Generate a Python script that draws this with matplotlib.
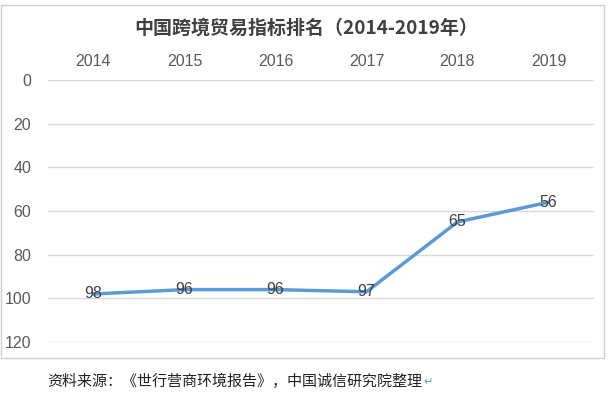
import matplotlib.pyplot as plt
from matplotlib.patches import Rectangle

plt.rcParams['font.family'] = ['Liberation Sans', 'Noto Sans CJK SC', 'DejaVu Sans']

years = ['2014', '2015', '2016', '2017', '2018', '2019']
ranks = [98, 96, 96, 97, 65, 56]
yticks = [0, 20, 40, 60, 80, 100, 120]

fig = plt.figure(figsize=(6.13, 3.96), dpi=100)
ax = fig.add_axes([48/613, 1-342/396, 546/613, 262/396])

x = list(range(len(years)))
ax.plot(x, ranks, color='#5b9bd5', lw=2.5, solid_capstyle='round', zorder=3)
for xi, v in zip(x, ranks):
    ax.text(xi, v, str(v), ha='center', va='center', fontsize=11.5, color='#404040', zorder=4)

ax.set_xlim(-0.5, len(years)-0.5)
ax.set_ylim(120, 0)
ax.set_yticks(yticks)
ax.set_xticks(x)
ax.set_xticklabels(years)
ax.xaxis.tick_top()
ax.tick_params(length=0, labelsize=11.5, colors='#595959', pad=8)
ax.tick_params(axis='y', pad=12)
ax.grid(axis='y', color='#d9d9d9', lw=1)
ax.set_axisbelow(True)
for s in ax.spines.values():
    s.set_visible(False)

fig.text(0.5, 1-28/396, '中国跨境贸易指标排名（2014-2019年）', ha='center', va='center',
         family=['Noto Sans CJK SC', 'DejaVu Sans'], fontsize=13.7, fontweight='bold', color='#404040')

fig.patches.append(Rectangle((1/613, 1-358/396), 603/613, 353/396, transform=fig.transFigure,
                             fill=False, edgecolor='#d0d0d0', lw=1))

fig.text(47/613, 1-381/396, '资料来源：《世行营商环境报告》，中国诚信研究院整理', ha='left', va='center',
         family=['Noto Sans CJK SC', 'DejaVu Sans'], fontsize=10.8, color='#222222')
fig.text(423/613, 1-382/396, '↵', ha='left', va='center', fontsize=8, color='#5b9bd5',
         family=['DejaVu Sans'])

fig.savefig('out.png', dpi=100)
